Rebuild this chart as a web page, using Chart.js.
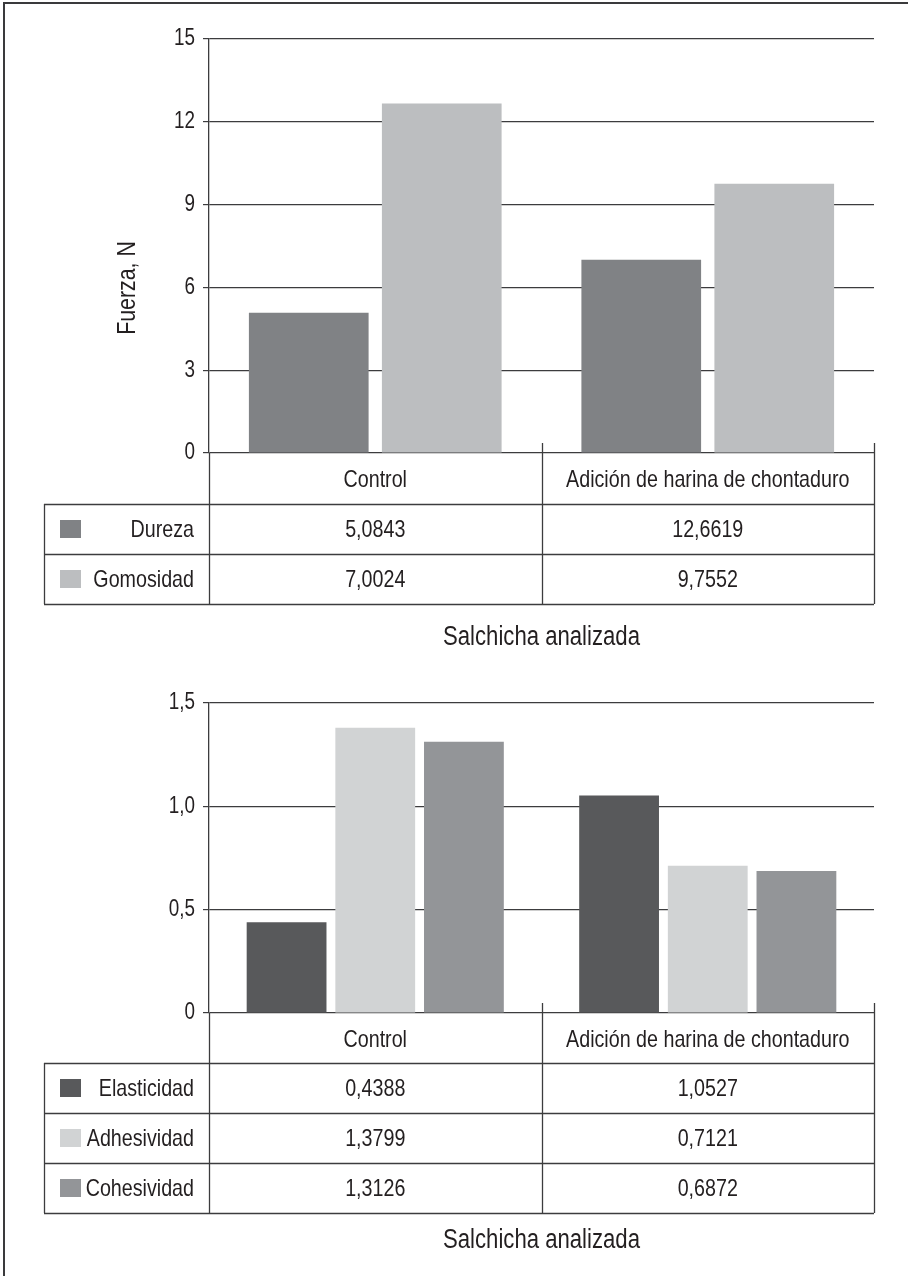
<!DOCTYPE html>
<html lang="es">
<head>
  <meta charset="utf-8" />
  <title>Perfil de textura - salchicha</title>
  <style>
    html, body {
      margin: 0;
      padding: 0;
      background: #ffffff;
      overflow: hidden;
      width: 908px;
      height: 1276px;
    }
    #marco {
      position: absolute;
      left: 3px;
      top: 2px;
      width: 1200px;
      height: 1600px;
      border-left: 2px solid #3a3a3c;
      border-top: 2px solid #3a3a3c;
    }
    .panel {
      position: absolute;
      left: 0;
      width: 908px;
    }
  </style>
</head>
<body>
  <div id="marco"></div>
  <div class="panel" style="top:0;height:680px"><canvas id="fuerza"></canvas></div>
  <div class="panel" style="top:680px;height:596px"><canvas id="parametros"></canvas></div>

  <script src="https://cdn.jsdelivr.net/npm/chart.js"></script>
  <script>
    const categorias = ['Control', 'Adición de harina de chontaduro'];

    // Panel superior (tabla tal como aparece en la figura)
    const dureza = [5.0843, 12.6619];
    const gomosidad = [7.0024, 9.7552];
    const ticksFuerza = [0, 3, 6, 9, 12, 15];

    // Panel inferior
    const elasticidad = [0.4388, 1.0527];
    const adhesividad = [1.3799, 0.7121];
    const cohesividad = [1.3126, 0.6872];
    const ticksParam = [0, 0.5, 1.0, 1.5];

    // no hay Arial Narrow instalada: se comprime Liberation Sans a mano
    const FUENTE = "'Liberation Sans', Arial, sans-serif";
    const ESTRECHO = 0.82;
    const TEXTO = '#231f20';
    const LINEA = '#3c3c3e';

    const coma = v => String(v).replace('.', ',');
    const fmt1 = v => v === 0 ? '0' : v.toFixed(1).replace('.', ',');

    function texto(ctx, str, x, y, size, align, rot) {
      ctx.save();
      ctx.font = `${size}px ${FUENTE}`;
      ctx.fillStyle = TEXTO;
      ctx.textAlign = align;
      ctx.textBaseline = 'middle';
      ctx.translate(x, y);
      if (rot) ctx.rotate(rot);
      ctx.scale(ESTRECHO, 1);
      ctx.fillText(str, 0, 0);
      ctx.restore();
    }

    // dibuja rótulos del eje y, la tabla de datos, categorías y títulos
    function tablaPlugin(cfg) {
      return {
        id: 'tabla',
        afterDraw(chart) {
          const { ctx, scales: { x, y } } = chart;
          const cero = y.getPixelForValue(0);
          const anchoCol = x.width / categorias.length;
          const arriba = cero + cfg.gapTabla;
          const filaH = 50;
          const abajo = arriba + filaH * cfg.filas.length;
          const izq = 44;

          y.ticks.forEach(t => {
            texto(ctx, cfg.formato(t.value), 195, y.getPixelForValue(t.value), 23, 'right');
          });

          ctx.save();
          ctx.strokeStyle = LINEA;
          ctx.lineWidth = 1.3;

          // líneas horizontales de la tabla
          for (let i = 0; i <= cfg.filas.length; i++) {
            const yy = Math.round(arriba + i * filaH) + 0.5;
            ctx.beginPath();
            ctx.moveTo(izq, yy);
            ctx.lineTo(x.right, yy);
            ctx.stroke();
          }
          // borde izquierdo de la tabla
          ctx.beginPath();
          ctx.moveTo(izq + 0.5, arriba);
          ctx.lineTo(izq + 0.5, abajo);
          ctx.stroke();
          // prolongación del eje y
          ctx.beginPath();
          ctx.moveTo(x.left + 0.5, cero);
          ctx.lineTo(x.left + 0.5, abajo);
          ctx.stroke();
          // separadores de categoría
          for (let i = 1; i <= categorias.length; i++) {
            const xx = Math.round(x.left + i * anchoCol) + 0.5;
            ctx.beginPath();
            ctx.moveTo(xx, cero - 10);
            ctx.lineTo(xx, abajo);
            ctx.stroke();
          }
          ctx.restore();

          categorias.forEach((c, i) => {
            texto(ctx, c, x.getPixelForValue(i), cero + 27, 24, 'center');
          });

          cfg.filas.forEach((f, r) => {
            const cy = arriba + r * filaH + filaH / 2;
            ctx.fillStyle = f.color;
            ctx.fillRect(60, cy - 9, 21, 18);
            texto(ctx, f.nombre, 194, cy + 1, 24, 'right');
            f.valores.forEach((v, i) => {
              texto(ctx, coma(v), x.getPixelForValue(i), cy + 1, 24, 'center');
            });
          });

          texto(ctx, 'Salchicha analizada', (x.left + x.right) / 2, abajo + cfg.gapTitulo, 27, 'center');

          if (cfg.tituloY) {
            texto(ctx, cfg.tituloY, 128, 288, 26, 'center', -Math.PI / 2);
          }
        }
      };
    }

    function ejes(max, paso, alturaX) {
      return {
        x: {
          grid: { display: false },
          ticks: { display: false },
          border: { display: false },
          afterFit(s) { s.height = alturaX; }
        },
        y: {
          min: 0,
          max: max,
          ticks: { stepSize: paso, display: false },
          grid: { color: LINEA, lineWidth: 1.2, tickLength: 6, tickColor: LINEA, drawTicks: true },
          border: { display: true, color: LINEA, width: 1.3 },
          afterFit(s) { s.width = 209; }
        }
      };
    }

    const comunes = {
      responsive: true,
      maintainAspectRatio: false,
      animation: false,
      devicePixelRatio: 1,
      plugins: { legend: { display: false }, tooltip: { enabled: false } }
    };

    // En la figura impresa las barras muestran la tabla traspuesta:
    // barras oscuras = primera columna, barras claras = segunda columna.
    new Chart(document.getElementById('fuerza'), {
      type: 'bar',
      data: {
        labels: categorias,
        datasets: [
          { label: 'Dureza', data: [dureza[0], gomosidad[0]], backgroundColor: '#808285' },
          { label: 'Gomosidad', data: [dureza[1], gomosidad[1]], backgroundColor: '#bcbec0' }
        ].map(d => Object.assign(d, { barPercentage: 0.9, categoryPercentage: 0.8, borderWidth: 0 }))
      },
      options: Object.assign({}, comunes, {
        layout: { padding: { top: 39, right: 34, left: 0, bottom: 0 } },
        scales: ejes(ticksFuerza[ticksFuerza.length - 1], ticksFuerza[1], 680 - 453)
      }),
      plugins: [tablaPlugin({
        gapTabla: 51,
        gapTitulo: 34,
        tituloY: 'Fuerza, N',
        formato: v => coma(v),
        filas: [
          { nombre: 'Dureza', color: '#808285', valores: dureza },
          { nombre: 'Gomosidad', color: '#bcbec0', valores: gomosidad }
        ]
      })]
    });

    new Chart(document.getElementById('parametros'), {
      type: 'bar',
      data: {
        labels: categorias,
        datasets: [
          { label: 'Elasticidad', data: elasticidad, backgroundColor: '#58595b' },
          { label: 'Adhesividad', data: adhesividad, backgroundColor: '#d1d3d4' },
          { label: 'Cohesividad', data: cohesividad, backgroundColor: '#939598' }
        ].map(d => Object.assign(d, { barPercentage: 0.9, categoryPercentage: 0.8, borderWidth: 0 }))
      },
      options: Object.assign({}, comunes, {
        layout: { padding: { top: 23, right: 34, left: 0, bottom: 0 } },
        scales: ejes(ticksParam[ticksParam.length - 1], ticksParam[1], 596 - 333)
      }),
      plugins: [tablaPlugin({
        gapTabla: 50,
        gapTitulo: 28,
        formato: fmt1,
        filas: [
          { nombre: 'Elasticidad', color: '#58595b', valores: elasticidad },
          { nombre: 'Adhesividad', color: '#d1d3d4', valores: adhesividad },
          { nombre: 'Cohesividad', color: '#939598', valores: cohesividad }
        ]
      })]
    });
  </script>
</body>
</html>
